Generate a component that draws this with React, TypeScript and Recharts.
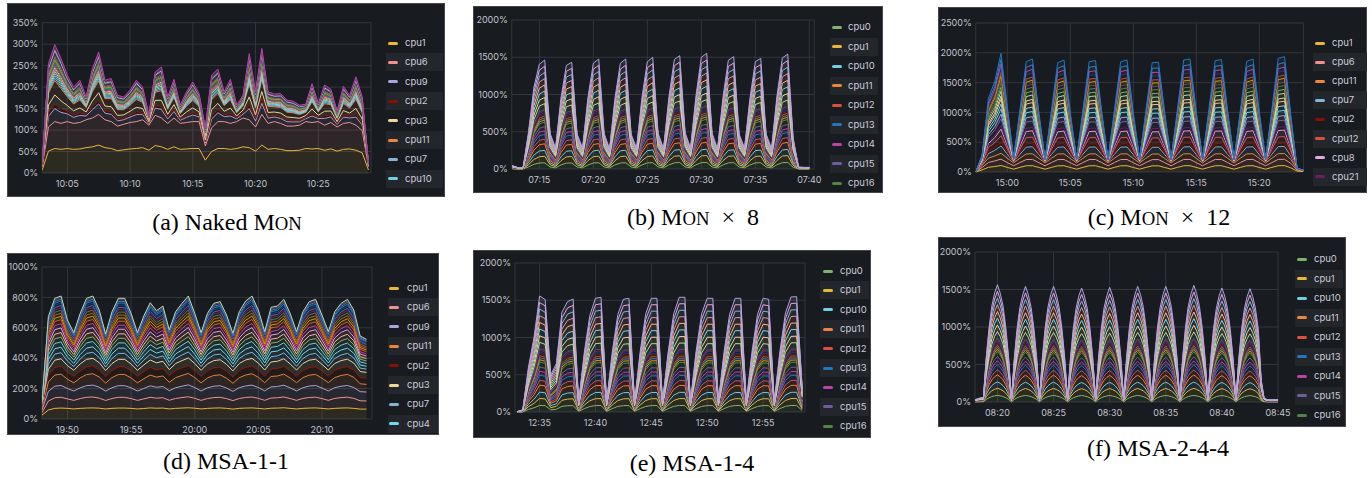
import { Area, AreaChart, CartesianGrid, XAxis, YAxis } from "recharts";

type Row = Record<string, number>;

const PANEL_BG = "#181b1f";
const GRID = "#33363b";
const TICK = "#c3c4cd";
const LEGEND_TEXT = "#ccccdc";
const ROW_BG = "#23262b";
const UI_FONT = "Inter, 'Noto Sans', sans-serif";
const SERIF = "'Liberation Serif', 'Times New Roman', serif";

// grafana classic palette, assigned to the cpus in alphabetical order
const cpuColors: Record<string, string> = {
  cpu0: "#7EB26D",
  cpu1: "#EAB839",
  cpu10: "#6ED0E0",
  cpu11: "#EF843C",
  cpu12: "#E24D42",
  cpu13: "#1F78C1",
  cpu14: "#BA43A9",
  cpu15: "#705DA0",
  cpu16: "#508642",
  cpu17: "#CCA300",
  cpu18: "#447EBC",
  cpu19: "#C15C17",
  cpu2: "#890F02",
  cpu20: "#0A437C",
  cpu21: "#6D1F62",
  cpu22: "#584477",
  cpu23: "#B7DBAB",
  cpu3: "#F4D598",
  cpu4: "#70DBED",
  cpu5: "#F9BA8F",
  cpu6: "#F29191",
  cpu7: "#82B5D8",
  cpu8: "#E5A8E2",
  cpu9: "#AEA2E0",
};

// ---- shared by (b), (e), (f): alphabetical stack, share of each cpu at a peak (%)
const cpuAlpha = [
  "cpu0", "cpu1", "cpu10", "cpu11", "cpu12", "cpu13", "cpu14", "cpu15",
  "cpu16", "cpu17", "cpu18", "cpu19", "cpu2", "cpu20", "cpu21", "cpu22",
  "cpu23", "cpu3", "cpu4", "cpu5", "cpu6", "cpu7", "cpu8", "cpu9",
];
const cpuAlphaPeak = [
  80, 85, 77, 85, 60, 62, 48, 52, 60, 28, 25, 25, 22, 20, 22, 20, 78, 80, 82,
  80, 82, 80, 80, 80,
];
const pct2000 = [0, 500, 1000, 1500, 2000];

// ---- (a) Naked Mon: 10:03 .. 10:29, 30 s samples
const nakedStart = 3;
const nakedStep = 0.5;
const nakedTotal = [
  20, 255, 299, 267, 228, 200, 216, 177, 243, 282,
  216, 220, 181, 177, 193, 216, 200, 135, 235, 247,
  177, 218, 158, 189, 212, 185, 104, 228, 242, 189,
  218, 158, 181, 278, 189, 290, 189, 184, 185, 170,
  167, 158, 160, 208, 162, 205, 195, 144, 202, 181,
  224, 177, 22,
];
// cpu1 line, the flat part under the load
const nakedBase = [
  7, 51, 57, 55, 57, 55, 56, 59, 61, 65,
  59, 57, 52, 54, 56, 57, 59, 53, 64, 61,
  55, 61, 55, 56, 57, 57, 30, 50, 57, 57,
  55, 57, 61, 59, 51, 65, 55, 57, 55, 52,
  52, 53, 57, 56, 57, 53, 56, 51, 55, 56,
  53, 47, 7,
];
const nakedOrder = [
  "cpu1", "cpu6", "cpu9", "cpu2", "cpu3", "cpu11", "cpu7", "cpu10",
  "cpu4", "cpu5", "cpu0", "cpu8", "cpu12", "cpu13", "cpu16", "cpu17",
  "cpu18", "cpu19", "cpu20", "cpu22", "cpu23", "cpu15", "cpu21", "cpu14",
];
const nakedSteady = [1, 1.1];
const nakedLoad = [
  0, 0, 17, 6, 12, 19, 3, 3, 3, 3, 2.5, 2.5, 2.5, 2.5, 2.5, 2.5, 2.5, 2.5,
  2.5, 2.5, 2.5, 2.5, 2.5, 2.5,
];
const nakedXTicks = [5, 10, 15, 20, 25];
const nakedXLabels = ["10:05", "10:10", "10:15", "10:20", "10:25"];
const nakedYTicks = [0, 50, 100, 150, 200, 250, 300, 350];

// ---- (b) Mon x 8: 07:12.5 .. 07:40, 30 s samples
const mon8Start = 2.5;
const mon8Step = 0.5;
const mon8Total = [
  45, 20, 20, 500, 1100, 1405, 1463, 480, 280, 950,
  1390, 1432, 470, 280, 960, 1420, 1476, 480, 270, 950,
  1420, 1476, 470, 280, 960, 1440, 1499, 480, 275, 970,
  1470, 1521, 490, 280, 980, 1500, 1552, 480, 270, 960,
  1460, 1508, 470, 280, 950, 1440, 1485, 470, 275, 980,
  1490, 1543, 420, 25, 22, 22,
];
const mon8XTicks = [5, 10, 15, 20, 25, 30];
const mon8XLabels = ["07:15", "07:20", "07:25", "07:30", "07:35", "07:40"];

// ---- (c) Mon x 12: 14:57.5 .. 15:23.5, 30 s samples
const mon12Start = 2.5;
const mon12Step = 0.5;
const mon12Total = [
  5, 285, 1236, 1515, 1991, 1100, 229, 1040, 1851, 1896,
  1010, 215, 1030, 1834, 1879, 1000, 220, 1040, 1851, 1868,
  1010, 215, 1040, 1851, 1879, 1000, 220, 1030, 1834, 1840,
  990, 215, 1050, 1879, 1896, 1010, 220, 1050, 1870, 1885,
  1010, 215, 1040, 1855, 1896, 1010, 220, 1050, 1907, 1935,
  960, 60, 30,
];
const mon12Base = [
  0, 30, 45, 50, 52, 48, 46, 50, 52, 52,
  50, 46, 50, 52, 52, 50, 46, 50, 52, 52,
  50, 46, 50, 52, 52, 50, 46, 50, 52, 52,
  50, 46, 50, 52, 52, 50, 46, 50, 52, 52,
  50, 46, 50, 52, 52, 50, 46, 50, 52, 52,
  45, 15, 8,
];
const mon12Order = [
  "cpu1", "cpu6", "cpu11", "cpu7", "cpu2", "cpu12", "cpu8", "cpu21",
  "cpu15", "cpu9", "cpu10", "cpu4", "cpu5", "cpu3", "cpu23", "cpu0",
  "cpu16", "cpu22", "cpu17", "cpu19", "cpu20", "cpu14", "cpu18", "cpu13",
];
const mon12Steady = [1, 1.2, 1, 0.3];
const mon12Load = [
  50, 40, 40, 95, 50, 100, 100, 50, 100, 70, 80, 70, 70, 50, 70, 60, 60, 50,
  60, 50, 60, 60, 70, 90,
];
const mon12XTicks = [5, 10, 15, 20, 25];
const mon12XLabels = ["15:00", "15:05", "15:10", "15:15", "15:20"];
const mon12YTicks = [0, 500, 1000, 1500, 2000, 2500];

// ---- (d) MSA-1-1: 19:48 .. 20:13.5, 30 s samples
const msa11Start = 3;
const msa11Step = 0.5;
const msa11Total = [
  103, 673, 794, 809, 651, 568, 695, 794, 809, 717,
  559, 706, 794, 794, 695, 568, 678, 765, 713, 743,
  586, 706, 761, 809, 695, 568, 695, 761, 772, 684,
  564, 706, 776, 809, 717, 575, 735, 743, 787, 695,
  575, 706, 772, 787, 684, 575, 706, 761, 787, 717,
  546, 524,
];
const msa11Base = [
  26, 59, 70, 72, 70, 66, 70, 72, 73, 71,
  66, 70, 72, 72, 70, 66, 69, 73, 71, 72,
  66, 70, 72, 74, 71, 66, 70, 72, 73, 70,
  65, 70, 72, 73, 70, 66, 71, 72, 74, 70,
  66, 70, 72, 73, 70, 66, 70, 72, 73, 70,
  65, 65,
];
const msa11Order = [
  "cpu1", "cpu6", "cpu9", "cpu11", "cpu2", "cpu3", "cpu7", "cpu4",
  "cpu10", "cpu0", "cpu5", "cpu8", "cpu14", "cpu12", "cpu17", "cpu19",
  "cpu16", "cpu21", "cpu15", "cpu20", "cpu13", "cpu18", "cpu22", "cpu23",
];
const msa11Steady = [1, 0.6, 0.66, 0.4, 0.52, 0.45];
const msa11Load = [
  0, 28, 30, 46, 12.5, 18, 40, 36, 35, 31, 30, 31, 27, 27, 22, 20, 20, 16, 15,
  15, 14, 12, 11, 10,
];
const msa11XTicks = [5, 10, 15, 20, 25];
const msa11XLabels = ["19:50", "19:55", "20:00", "20:05", "20:10"];
const msa11YTicks = [0, 200, 400, 600, 800, 1000];

// ---- (e) MSA-1-4: 12:33 .. 12:58.5, 30 s samples
const msa14Start = 3;
const msa14Step = 0.5;
const msa14Total = [
  5, 30, 600, 1000, 1557, 1510, 500, 650, 1340, 1481,
  1517, 140, 800, 1300, 1526, 1540, 140, 800, 1310, 1513,
  1526, 140, 810, 1320, 1526, 1526, 140, 800, 1320, 1540,
  1540, 140, 810, 1320, 1526, 1526, 140, 800, 1310, 1526,
  1526, 140, 800, 1310, 1526, 1513, 140, 810, 1330, 1544,
  1548, 330,
];
const msa14XTicks = [5, 10, 15, 20, 25];
const msa14XLabels = ["12:35", "12:40", "12:45", "12:50", "12:55"];

// ---- (f) MSA-2-4-4: 08:18 .. 08:45, 15 s samples (one row per minute)
const msa244Start = 3;
const msa244Step = 0.25;
const msa244Total = [
  30, 45, 55, 60,
  600, 990, 1280, 1455,
  1564, 1450, 1280, 990,
  590, 35, 585, 985,
  1265, 1430, 1542, 1432,
  1262, 985, 585, 35,
  590, 990, 1265, 1435,
  1542, 1430, 1260, 980,
  580, 35, 580, 975,
  1245, 1415, 1520, 1415,
  1250, 975, 580, 35,
  585, 980, 1255, 1420,
  1529, 1422, 1255, 980,
  585, 35, 590, 985,
  1265, 1432, 1542, 1432,
  1262, 985, 590, 35,
  590, 985, 1262, 1432,
  1542, 1432, 1265, 985,
  590, 35, 590, 990,
  1275, 1445, 1555, 1445,
  1275, 990, 590, 35,
  580, 975, 1245, 1415,
  1520, 1415, 1245, 970,
  575, 35, 575, 965,
  1240, 1405, 1511, 1405,
  1240, 965, 300, 60,
  35, 30, 30, 30,
  30,
];
const msa244XTicks = [5, 10, 15, 20, 25, 30];
const msa244XLabels = ["08:20", "08:25", "08:30", "08:35", "08:40", "08:45"];

// stacked rows: cpus with a steady share ride on the base line, the rest of
// the total is split by each cpu's load share
function buildRows(
  start: number,
  step: number,
  total: number[],
  order: string[],
  load: number[],
  base?: number[],
  steady: number[] = [],
) {
  const loadSum = load.reduce((s, w) => s + w, 0);
  const steadySum = steady.reduce((s, v) => s + v, 0);
  return total.map((top, i) => {
    const b = base ? base[i] : 0;
    const rest = Math.max(top - steadySum * b, 0);
    const row: Row = { t: start + i * step };
    order.forEach((cpu, k) => {
      row[cpu] = (steady[k] ?? 0) * b + (load[k] / loadSum) * rest;
    });
    return row;
  });
}

type LegendPos = {
  y: number;
  step: number;
  swatch: number;
  text: number;
  bg: number;
  bgW: number;
  count: number;
};

function CpuPanel({
  box,
  plot,
  rows,
  order,
  xDomain,
  xTicks,
  xLabels,
  yTicks,
  legend,
}: {
  box: [number, number, number, number];
  plot: [number, number, number, number];
  rows: Row[];
  order: string[];
  xDomain: [number, number];
  xTicks: number[];
  xLabels: string[];
  yTicks: number[];
  legend: LegendPos;
}) {
  const [bx, by, bw, bh] = box;
  const [px0, py0, px1, py1] = plot;
  const xAxisH = 14;
  const tickStyle = { fill: TICK, fontSize: 9, fontFamily: UI_FONT };

  return (
    <div
      style={{
        position: "absolute",
        left: bx,
        top: by,
        width: bw,
        height: bh,
        background: PANEL_BG,
        boxShadow: "inset 0 0 0 1px #45474c",
        overflow: "hidden",
      }}
    >
      <AreaChart
        width={bw}
        height={bh}
        data={rows}
        margin={{
          top: py0 - by,
          right: bx + bw - px1,
          bottom: by + bh - py1 - xAxisH,
          left: 0,
        }}
      >
        <CartesianGrid stroke={GRID} strokeWidth={1} />
        <XAxis
          dataKey="t"
          type="number"
          domain={xDomain}
          ticks={xTicks}
          interval={0}
          allowDataOverflow
          height={xAxisH}
          axisLine={false}
          tickLine={false}
          tickSize={0}
          tickMargin={8}
          tick={tickStyle}
          tickFormatter={(v: number) => xLabels[xTicks.indexOf(v)] ?? ""}
        />
        <YAxis
          type="number"
          domain={[0, yTicks[yTicks.length - 1]]}
          ticks={yTicks}
          interval={0}
          width={px0 - bx}
          axisLine={false}
          tickLine={false}
          tickSize={0}
          tickMargin={4}
          tick={tickStyle}
          tickFormatter={(v: number) => `${v}%`}
        />
        {order.map((cpu) => (
          <Area
            key={cpu}
            type="linear"
            dataKey={cpu}
            stackId="cpu"
            stroke={cpuColors[cpu]}
            strokeWidth={1}
            fill={cpuColors[cpu]}
            fillOpacity={0.1}
            dot={false}
            activeDot={false}
            isAnimationActive={false}
          />
        ))}
      </AreaChart>

      {order.slice(0, legend.count).map((cpu, i) => {
        const cy = legend.y + i * legend.step;
        return (
          <div key={cpu}>
            {i % 2 === 1 && (
              <div
                style={{
                  position: "absolute",
                  left: legend.bg,
                  top: cy - 9,
                  width: legend.bgW,
                  height: 18,
                  background: ROW_BG,
                }}
              />
            )}
            <div
              style={{
                position: "absolute",
                left: legend.swatch,
                top: cy - 1.5,
                width: 10,
                height: 3,
                borderRadius: 1.5,
                background: cpuColors[cpu],
              }}
            />
            <div
              style={{
                position: "absolute",
                left: legend.text,
                top: cy - 7,
                lineHeight: "14px",
                fontSize: 9.5,
                fontFamily: UI_FONT,
                color: LEGEND_TEXT,
                whiteSpace: "nowrap",
              }}
            >
              {cpu}
            </div>
          </div>
        );
      })}
    </div>
  );
}

function Caption({ x, y, children }: { x: number; y: number; children: any }) {
  return (
    <div
      style={{
        position: "absolute",
        left: x,
        top: y - 2,
        transform: "translate(-50%, -50%)",
        fontFamily: SERIF,
        fontSize: 24,
        lineHeight: "24px",
        color: "#000",
        whiteSpace: "nowrap",
      }}
    >
      {children}
    </div>
  );
}

const sc = { fontSize: "0.78em" };

export default function App() {
  const nakedRows = buildRows(
    nakedStart, nakedStep, nakedTotal, nakedOrder, nakedLoad, nakedBase, nakedSteady,
  );
  const mon8Rows = buildRows(mon8Start, mon8Step, mon8Total, cpuAlpha, cpuAlphaPeak);
  const mon12Rows = buildRows(
    mon12Start, mon12Step, mon12Total, mon12Order, mon12Load, mon12Base, mon12Steady,
  );
  const msa11Rows = buildRows(
    msa11Start, msa11Step, msa11Total, msa11Order, msa11Load, msa11Base, msa11Steady,
  );
  const msa14Rows = buildRows(msa14Start, msa14Step, msa14Total, cpuAlpha, cpuAlphaPeak);
  const msa244Rows = buildRows(
    msa244Start, msa244Step, msa244Total, cpuAlpha, cpuAlphaPeak,
  );

  return (
    <div
      style={{
        position: "absolute",
        left: 0,
        top: 0,
        width: 1372,
        height: 478,
        background: "#fff",
        overflow: "hidden",
      }}
    >
      <CpuPanel
        box={[7, 3, 438, 194]}
        plot={[42.2, 22.7, 371, 173]}
        rows={nakedRows}
        order={nakedOrder}
        xDomain={[3, 29.2]}
        xTicks={nakedXTicks}
        xLabels={nakedXLabels}
        yTicks={nakedYTicks}
        legend={{ y: 40, step: 19.4, swatch: 381, text: 398, bg: 379, bgW: 57, count: 8 }}
      />
      <CpuPanel
        box={[473, 6, 410, 187]}
        plot={[511.8, 20, 814.2, 169]}
        rows={mon8Rows}
        order={cpuAlpha}
        xDomain={[2.45, 30.45]}
        xTicks={mon8XTicks}
        xLabels={mon8XLabels}
        yTicks={pct2000}
        legend={{ y: 21, step: 19.5, swatch: 359, text: 375, bg: 357, bgW: 48, count: 9 }}
      />
      <CpuPanel
        box={[938, 7, 429, 186]}
        plot={[975.8, 23, 1303.4, 172]}
        rows={mon12Rows}
        order={mon12Order}
        xDomain={[2.5, 28.5]}
        xTicks={mon12XTicks}
        xLabels={mon12XLabels}
        yTicks={mon12YTicks}
        legend={{ y: 36, step: 19.1, swatch: 377, text: 394, bg: 375, bgW: 54, count: 8 }}
      />
      <CpuPanel
        box={[7, 253, 432, 182]}
        plot={[42, 267, 372, 419]}
        rows={msa11Rows}
        order={msa11Order}
        xDomain={[3, 28.93]}
        xTicks={msa11XTicks}
        xLabels={msa11XLabels}
        yTicks={msa11YTicks}
        legend={{ y: 35, step: 19.4, swatch: 382, text: 400, bg: 381, bgW: 50, count: 8 }}
      />
      <CpuPanel
        box={[473, 250, 398, 188]}
        plot={[515, 263, 805, 412]}
        rows={msa14Rows}
        order={cpuAlpha}
        xDomain={[2.8, 28.75]}
        xTicks={msa14XTicks}
        xLabels={msa14XLabels}
        yTicks={pct2000}
        legend={{ y: 21, step: 19.4, swatch: 350, text: 367, bg: 347, bgW: 49, count: 9 }}
      />
      <CpuPanel
        box={[938, 237, 408, 190]}
        plot={[975, 252, 1278, 402]}
        rows={msa244Rows}
        order={cpuAlpha}
        xDomain={[3, 30]}
        xTicks={msa244XTicks}
        xLabels={msa244XLabels}
        yTicks={pct2000}
        legend={{ y: 22, step: 19.5, swatch: 359, text: 376, bg: 357, bgW: 48, count: 9 }}
      />

      <Caption x={227} y={225}>
        (a) Naked M<span style={sc}>ON</span>
      </Caption>
      <Caption x={693} y={220}>
        (b) M<span style={sc}>ON</span> &nbsp;× &nbsp;8
      </Caption>
      <Caption x={1159} y={220}>
        (c) M<span style={sc}>ON</span> &nbsp;× &nbsp;12
      </Caption>
      <Caption x={226} y={463}>
        (d) MSA-1-1
      </Caption>
      <Caption x={692} y={465}>
        (e) MSA-1-4
      </Caption>
      <Caption x={1158} y={450}>
        (f) MSA-2-4-4
      </Caption>
    </div>
  );
}
